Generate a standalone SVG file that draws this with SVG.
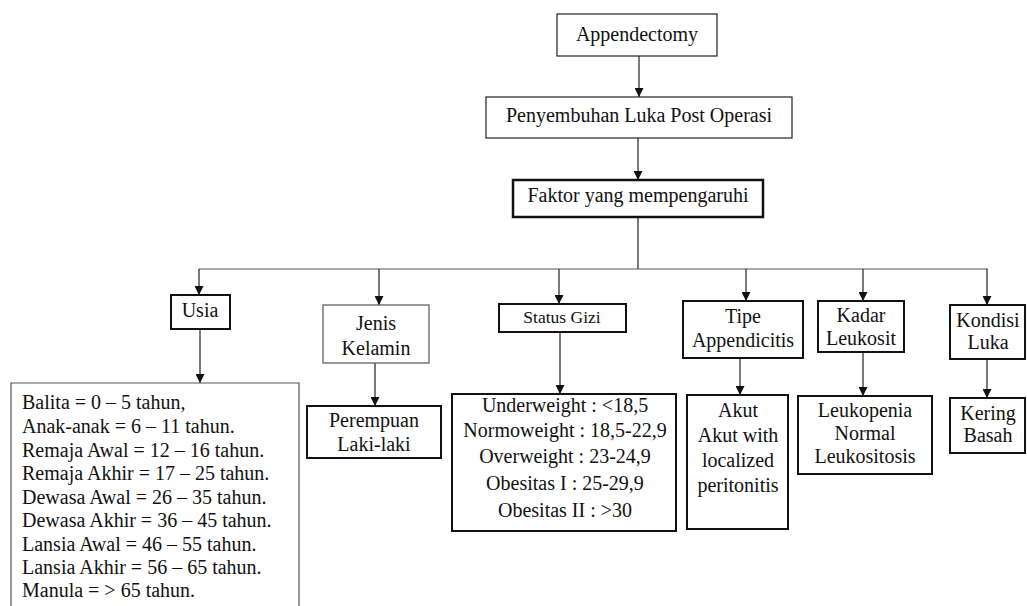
<svg xmlns="http://www.w3.org/2000/svg" width="1027" height="606" viewBox="0 0 1027 606" font-family="Liberation Serif, serif">
<style>
.t{font-family:"Liberation Serif",serif;font-size:20px;fill:#111;}
.c{text-anchor:middle;}
.box{fill:#fff;stroke:#111;stroke-width:2;}
.thin{fill:#fff;stroke:#222;stroke-width:1.2;}
.gray{fill:#fff;stroke:#555;stroke-width:1.2;}
.con{fill:none;stroke:#222;stroke-width:1.2;}
.small{font-size:17.5px;}
</style>
<defs>
<marker id="ah" viewBox="0 0 10 10" refX="10" refY="5" markerWidth="10" markerHeight="9" markerUnits="userSpaceOnUse" orient="auto">
<path d="M0,0 L10,5 L0,10 z" fill="#111"/>
</marker>
</defs>
<rect width="1027" height="606" fill="#fff"/>
<g id="connectors">
<path class="con" d="M639,56 V97" marker-end="url(#ah)"/>
<path class="con" d="M638,138 V180" marker-end="url(#ah)"/>
<path class="con" d="M638,217 V269"/>
<path class="con" style="stroke:#555" d="M199,269 H988"/>
<path class="con" d="M199,269 V295" marker-end="url(#ah)"/>
<path class="con" d="M379,269 V305" marker-end="url(#ah)"/>
<path class="con" d="M559,269 V304" marker-end="url(#ah)"/>
<path class="con" d="M746,269 V301" marker-end="url(#ah)"/>
<path class="con" d="M863,269 V301" marker-end="url(#ah)"/>
<path class="con" d="M987,269 V305" marker-end="url(#ah)"/>
<path class="con" d="M200,329 V383" marker-end="url(#ah)"/>
<path class="con" d="M375,363 V406" marker-end="url(#ah)"/>
<path class="con" d="M560,332 V394" marker-end="url(#ah)"/>
<path class="con" d="M740,358 V395" marker-end="url(#ah)"/>
<path class="con" d="M863,352 V396" marker-end="url(#ah)"/>
<path class="con" d="M987,359 V398" marker-end="url(#ah)"/>
</g>
<g id="n-appendectomy">
<rect class="thin" x="557" y="14" width="160" height="42"/>
<text class="t c" x="637" y="41">Appendectomy</text>
</g>
<g id="n-penyembuhan">
<rect class="thin" x="486" y="97" width="306" height="41"/>
<text class="t c" x="639" y="122">Penyembuhan Luka Post Operasi</text>
</g>
<g id="n-faktor">
<rect class="box" style="stroke-width:2.5" x="513" y="180" width="250" height="37"/>
<text class="t c" x="638" y="202">Faktor yang mempengaruhi</text>
</g>
<g id="n-usia">
<rect class="box" x="171" y="295" width="59" height="34"/>
<text class="t c" x="200" y="317">Usia</text>
</g>
<g id="n-usia-list">
<path class="gray" d="M11,606 V383 H299 V606"/>
<text class="t" x="22" y="409">Balita = 0 – 5 tahun,</text>
<text class="t" x="22" y="433">Anak-anak = 6 – 11 tahun.</text>
<text class="t" x="22" y="457">Remaja Awal = 12 – 16 tahun.</text>
<text class="t" x="22" y="480">Remaja Akhir = 17 – 25 tahun.</text>
<text class="t" x="22" y="504">Dewasa Awal = 26 – 35 tahun.</text>
<text class="t" x="22" y="527">Dewasa Akhir = 36 – 45 tahun.</text>
<text class="t" x="22" y="551">Lansia Awal = 46 – 55 tahun.</text>
<text class="t" x="22" y="574">Lansia Akhir = 56 – 65 tahun.</text>
<text class="t" x="22" y="597">Manula = &gt; 65 tahun.</text>
</g>
<g id="n-jenis">
<rect class="gray" x="323" y="305" width="106" height="58"/>
<text class="t c" x="376" y="330">Jenis</text>
<text class="t c" x="376" y="355">Kelamin</text>
</g>
<g id="n-perempuan">
<rect class="box" x="307" y="406" width="134" height="52"/>
<text class="t c" x="374" y="427">Perempuan</text>
<text class="t c" x="374" y="451">Laki-laki</text>
</g>
<g id="n-statusgizi">
<rect class="box" x="499" y="304" width="127" height="28"/>
<text class="t c small" x="562" y="323">Status Gizi</text>
</g>
<g id="n-statusgizi-list">
<rect class="box" x="452" y="394" width="224" height="137"/>
<text class="t c" x="565" y="412">Underweight : &lt;18,5</text>
<text class="t c" x="565" y="437">Normoweight : 18,5-22,9</text>
<text class="t c" x="565" y="463">Overweight : 23-24,9</text>
<text class="t c" x="565" y="490">Obesitas I : 25-29,9</text>
<text class="t c" x="565" y="517">Obesitas II : &gt;30</text>
</g>
<g id="n-tipe">
<rect class="box" x="683" y="301" width="120" height="57"/>
<text class="t c" x="743" y="323">Tipe</text>
<text class="t c" x="743" y="347">Appendicitis</text>
</g>
<g id="n-akut">
<rect class="box" x="687" y="395" width="101" height="134"/>
<text class="t c" x="738" y="417">Akut</text>
<text class="t c" x="738" y="442">Akut with</text>
<text class="t c" x="738" y="467">localized</text>
<text class="t c" x="738" y="492">peritonitis</text>
</g>
<g id="n-kadar">
<rect class="box" x="818" y="301" width="86" height="51"/>
<text class="t c" x="861" y="322">Kadar</text>
<text class="t c" x="861" y="345">Leukosit</text>
</g>
<g id="n-leukopenia">
<rect class="box" x="798" y="396" width="134" height="78"/>
<text class="t c" x="865" y="417">Leukopenia</text>
<text class="t c" x="865" y="440">Normal</text>
<text class="t c" x="865" y="463">Leukositosis</text>
</g>
<g id="n-kondisi">
<rect class="box" x="950" y="305" width="75" height="54"/>
<text class="t c" x="988" y="327">Kondisi</text>
<text class="t c" x="988" y="349">Luka</text>
</g>
<g id="n-kering">
<rect class="box" x="950" y="398" width="75" height="55"/>
<text class="t c" x="988" y="420">Kering</text>
<text class="t c" x="988" y="442">Basah</text>
</g>
</svg>
